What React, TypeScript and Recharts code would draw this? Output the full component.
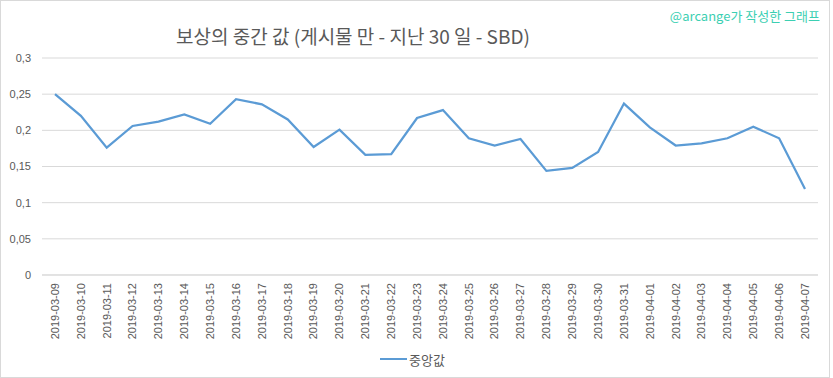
import React from "react";
import { LineChart, Line, XAxis, YAxis, CartesianGrid, Legend } from "recharts";

const dates = [
  "2019-03-09", "2019-03-10", "2019-03-11", "2019-03-12", "2019-03-13", "2019-03-14",
  "2019-03-15", "2019-03-16", "2019-03-17", "2019-03-18", "2019-03-19", "2019-03-20",
  "2019-03-21", "2019-03-22", "2019-03-23", "2019-03-24", "2019-03-25", "2019-03-26",
  "2019-03-27", "2019-03-28", "2019-03-29", "2019-03-30", "2019-03-31", "2019-04-01",
  "2019-04-02", "2019-04-03", "2019-04-04", "2019-04-05", "2019-04-06", "2019-04-07",
];

const medianValues = [
  0.25, 0.22, 0.176, 0.206, 0.212, 0.222, 0.209, 0.243, 0.236, 0.215, 0.177, 0.201,
  0.166, 0.167, 0.217, 0.228, 0.189, 0.179, 0.188, 0.144, 0.148, 0.17, 0.237, 0.204,
  0.179, 0.182, 0.189, 0.205, 0.189, 0.119,
];

const yTicks = [0, 0.05, 0.1, 0.15, 0.2, 0.25, 0.3];

const seriesName = "중앙값";
const titleText = "보상의 중간 값 (게시물 만 - 지난 30 일 - SBD)";
const watermarkText = "@arcange가 작성한 그래프";

const data = dates.map((d, i) => ({ date: d, value: medianValues[i] }));

const LINE_COLOR = "#5B9BD5";
const TEXT_COLOR = "#595959";
const GRID_COLOR = "#D9D9D9";
const FONT = "'Liberation Sans', 'Noto Sans CJK KR', sans-serif";
const KFONT = "'Noto Sans CJK KR', sans-serif";

const XTick = (props: any) => {
  const { x, y, payload } = props;
  return (
    <text
      x={x}
      y={y}
      transform={`rotate(-90, ${x}, ${y})`}
      textAnchor="end"
      dy="0.35em"
      fontSize={11}
      fontFamily={FONT}
      fill={TEXT_COLOR}
    >
      {payload.value}
    </text>
  );
};

const LegendContent = () => (
  <div
    style={{
      height: 18,
      display: "flex",
      alignItems: "center",
      justifyContent: "center",
      fontFamily: KFONT,
      fontSize: 13,
      color: TEXT_COLOR,
      paddingLeft: 7,
    }}
  >
    <span
      style={{
        display: "inline-block",
        width: 27,
        height: 2.5,
        background: LINE_COLOR,
        marginRight: 2,
      }}
    />
    <span>{seriesName}</span>
  </div>
);

export default function App() {
  return (
    <div style={{ position: "absolute", left: 0, top: 0, width: 833, height: 378, background: "#fff" }}>
      <div
        style={{
          position: "absolute",
          left: 0,
          top: 0,
          width: 830,
          height: 378,
          boxSizing: "border-box",
          border: `1px solid ${GRID_COLOR}`,
        }}
      />
      <div
        style={{
          position: "absolute",
          left: 0,
          top: 24,
          width: 706,
          textAlign: "center",
          fontFamily: KFONT,
          fontSize: 19,
          color: TEXT_COLOR,
          lineHeight: "24px",
          whiteSpace: "nowrap",
        }}
      >
        {titleText}
      </div>
      <div
        style={{
          position: "absolute",
          right: 13,
          top: 7,
          fontFamily: KFONT,
          fontSize: 13,
          color: "#3CCFB2",
          lineHeight: "18px",
          whiteSpace: "nowrap",
        }}
      >
        {watermarkText}
      </div>
      <div style={{ position: "absolute", left: 0, top: 0 }}>
        <LineChart
          width={833}
          height={378}
          data={data}
          margin={{ top: 58, right: 15, left: 0, bottom: 0 }}
        >
          <CartesianGrid horizontal={true} vertical={false} stroke={GRID_COLOR} />
          <XAxis
            dataKey="date"
            interval={0}
            height={75}
            padding={{ left: 13, right: 13 }}
            tickLine={false}
            axisLine={{ stroke: GRID_COLOR }}
            tick={<XTick />}
          />
          <YAxis
            domain={[0, 0.3]}
            ticks={yTicks}
            width={42}
            axisLine={false}
            tickLine={false}
            tickMargin={5}
            tick={{ fontSize: 11, fill: TEXT_COLOR, fontFamily: FONT }}
            tickFormatter={(v: number) => String(v).replace(".", ",")}
          />
          <Legend verticalAlign="bottom" height={28} content={<LegendContent />} />
          <Line
            type="linear"
            dataKey="value"
            name={seriesName}
            stroke={LINE_COLOR}
            strokeWidth={2.25}
            dot={false}
            isAnimationActive={false}
          />
        </LineChart>
      </div>
    </div>
  );
}
